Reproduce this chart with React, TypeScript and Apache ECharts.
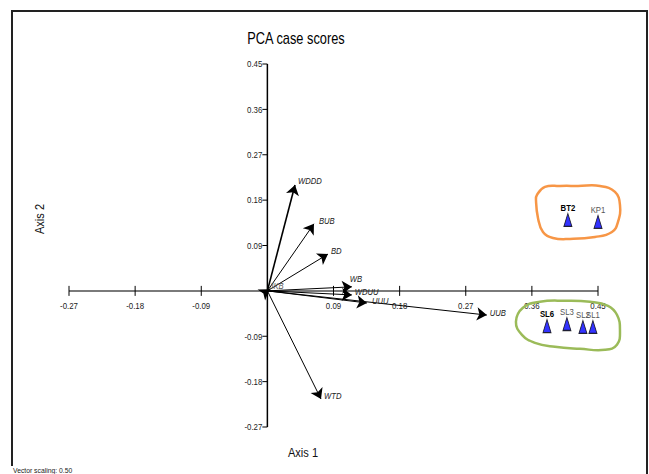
import React, { useEffect, useRef } from "react";
import * as echarts from "echarts";

const FONT = "'Liberation Sans', Arial, sans-serif";

// Axis settings
const axisMin = -0.27;
const axisMax = 0.45;
const tickValues = [-0.27, -0.18, -0.09, 0.09, 0.18, 0.27, 0.36, 0.45];
const tickLabels = ["-0.27", "-0.18", "-0.09", "0.09", "0.18", "0.27", "0.36", "0.45"];

// Environmental vectors (biplot arrows)
const vectorNames = ["WDDD", "BUB", "BD", "WB", "WDUU", "UUU", "UUB", "WTD", "JKB"];
const vectorX = [0.0376, 0.0634, 0.0825, 0.115, 0.115, 0.1355, 0.2987, 0.073, 0.003];
const vectorY = [0.21, 0.133, 0.073, 0.008, -0.008, -0.024, -0.048, -0.2145, 0.003];

// Case scores
const caseNames = ["BT2", "KP1", "SL6", "SL3", "SL2", "SL1"];
const caseX = [0.409, 0.45, 0.3806, 0.4077, 0.4295, 0.4431];
const caseY = [0.1407, 0.137, -0.0697, -0.0657, -0.0716, -0.0716];
const caseBold = ["BT2", "SL6"];

// Hand-drawn group outlines (data coordinates)
const orangeLoopX = [0.3669, 0.3778, 0.3983, 0.4228, 0.4527, 0.4731, 0.4799, 0.4772, 0.469, 0.4459, 0.4119, 0.3887, 0.3751, 0.3683, 0.3656];
const orangeLoopY = [0.1903, 0.2062, 0.2081, 0.2081, 0.2081, 0.1962, 0.1704, 0.1367, 0.1169, 0.1069, 0.103, 0.105, 0.1169, 0.1446, 0.1803];
const greenLoopX = [0.3478, 0.371, 0.405, 0.4391, 0.4636, 0.4758, 0.4799, 0.4758, 0.4595, 0.4254, 0.3914, 0.3642, 0.3465, 0.3383];
const greenLoopY = [-0.0335, -0.0216, -0.0196, -0.0216, -0.0296, -0.0474, -0.0772, -0.1069, -0.1169, -0.1149, -0.1109, -0.103, -0.0871, -0.0613];

// label placement (style only, pixel offsets from the arrow tip)
const vectorLabelOffset: Record<string, [number, number]> = {
  WDDD: [3, -4],
  BUB: [5, -2],
  BD: [3, -3],
  WB: [-2, -7],
  WDUU: [3, -3],
  UUU: [5, -2],
  UUB: [3, -2],
  WTD: [3, -3],
  JKB: [0, -3],
};

export default function App() {
  const ref = useRef<HTMLDivElement>(null);
  useEffect(() => {
    if (!ref.current) return;
    const chart = echarts.init(ref.current, undefined, { renderer: "svg" });

    const hiddenAxis = {
      type: "value",
      min: axisMin,
      max: axisMax,
      show: false,
      splitLine: { show: false },
    };

    const loopSeries = (xs: number[], ys: number[], color: string) => ({
      type: "custom",
      coordinateSystem: "cartesian2d",
      clip: false,
      silent: true,
      z: 2,
      data: [[xs[0], ys[0]]],
      renderItem: (_p: any, api: any) => {
        const pts = xs.map((x, i) => api.coord([x, ys[i]]));
        return {
          type: "polygon",
          shape: { points: pts, smooth: 0.45 },
          style: { fill: "none", stroke: color, lineWidth: 2.5 },
        };
      },
    });

    chart.setOption({
      animation: false,
      backgroundColor: "#fff",
      grid: { left: 69, right: 51, top: 64, bottom: 47, containLabel: false },
      xAxis: hiddenAxis,
      yAxis: hiddenAxis,
      graphic: [
        {
          type: "polyline",
          shape: { points: [[12, 466], [12, 11], [647, 11], [647, 474]] },
          style: { stroke: "#222", lineWidth: 2, fill: "none" },
          silent: true,
        },
        {
          type: "text",
          x: 296,
          y: 38,
          scaleX: 0.8,
          style: { text: "PCA case scores", fontFamily: FONT, fontSize: 16, fill: "#000", align: "center", verticalAlign: "middle" },
        },
        {
          type: "text",
          x: 303,
          y: 453,
          scaleX: 0.85,
          style: { text: "Axis 1", fontFamily: FONT, fontSize: 13, fill: "#111", align: "center", verticalAlign: "middle" },
        },
        {
          type: "text",
          x: 40,
          y: 219,
          rotation: Math.PI / 2,
          scaleX: 0.85,
          style: { text: "Axis 2", fontFamily: FONT, fontSize: 13, fill: "#111", align: "center", verticalAlign: "middle" },
        },
        {
          type: "text",
          x: 13,
          y: 466,
          scaleX: 0.85,
          style: { text: "Vector scaling: 0.50", fontFamily: FONT, fontSize: 8, fill: "#222", align: "left", verticalAlign: "top" },
        },
      ],
      series: [
        // axes drawn through the cartesian coordinate system
        {
          type: "custom",
          coordinateSystem: "cartesian2d",
          clip: false,
          silent: true,
          z: 1,
          data: [[0, 0]],
          renderItem: (_p: any, api: any) => {
            const children: any[] = [];
            const xa = api.coord([axisMin, 0]);
            const xb = api.coord([axisMax, 0]);
            const ya = api.coord([0, axisMin]);
            const yb = api.coord([0, axisMax]);
            children.push({
              type: "line",
              shape: { x1: xa[0], y1: xa[1], x2: xb[0], y2: xb[1] },
              style: { stroke: "#7a7a7a", lineWidth: 2 },
            });
            children.push({
              type: "line",
              shape: { x1: ya[0], y1: ya[1], x2: yb[0], y2: yb[1] },
              style: { stroke: "#000", lineWidth: 1.5 },
            });
            tickValues.forEach((v, i) => {
              const p = api.coord([v, 0]);
              children.push({
                type: "line",
                shape: { x1: p[0], y1: p[1] - 5, x2: p[0], y2: p[1] + 5 },
                style: { stroke: "#000", lineWidth: 1 },
              });
              children.push({
                type: "text",
                x: p[0],
                y: p[1] + 10,
                scaleX: 0.83,
                style: { text: tickLabels[i], fontFamily: FONT, fontSize: 9.5, fill: "#222", align: "center", verticalAlign: "top" },
              });
              const q = api.coord([0, v]);
              children.push({
                type: "line",
                shape: { x1: q[0] - 5, y1: q[1], x2: q[0], y2: q[1] },
                style: { stroke: "#000", lineWidth: 1 },
              });
              children.push({
                type: "text",
                x: q[0] - 5,
                y: q[1],
                scaleX: 0.83,
                style: { text: tickLabels[i], fontFamily: FONT, fontSize: 9.5, fill: "#222", align: "right", verticalAlign: "middle" },
              });
            });
            return { type: "group", children };
          },
        },
        loopSeries(orangeLoopX, orangeLoopY, "#f79646"),
        loopSeries(greenLoopX, greenLoopY, "#9bbb59"),
        {
          type: "lines",
          coordinateSystem: "cartesian2d",
          symbol: ["none", "arrow"],
          symbolSize: 10,
          lineStyle: { color: "#000", width: 1, opacity: 1 },
          data: vectorNames.map((n, i) => ({
            name: n,
            coords: [[0, 0], [vectorX[i], vectorY[i]]],
            lineStyle: n === "WDDD" ? { width: 1.6 } : undefined,
          })),
          silent: true,
          z: 3,
        },
        {
          type: "custom",
          coordinateSystem: "cartesian2d",
          clip: false,
          silent: true,
          z: 4,
          data: vectorNames.map((n, i) => [vectorX[i], vectorY[i]]),
          renderItem: (params: any, api: any) => {
            const n = vectorNames[params.dataIndex];
            const p = api.coord([api.value(0), api.value(1)]);
            const off = vectorLabelOffset[n] || [3, -2];
            return {
              type: "text",
              x: p[0] + off[0],
              y: p[1] + off[1],
              scaleX: 0.9,
              style: {
                text: n,
                fontFamily: FONT,
                fontSize: 8.5,
                fontStyle: "italic",
                fill: n === "JKB" ? "#555" : "#222",
                align: "left",
                verticalAlign: "middle",
              },
            };
          },
        },
        {
          type: "scatter",
          symbol: "triangle",
          symbolSize: [8, 13],
          itemStyle: { color: "#0000ff", borderColor: "#000", borderWidth: 1 },
          data: caseNames.map((n, i) => ({ name: n, value: [caseX[i], caseY[i]] })),
          label: { show: false },
          silent: true,
          z: 5,
        },
        {
          type: "custom",
          coordinateSystem: "cartesian2d",
          clip: false,
          silent: true,
          z: 6,
          data: caseNames.map((n, i) => [caseX[i], caseY[i]]),
          renderItem: (params: any, api: any) => {
            const n = caseNames[params.dataIndex];
            const p = api.coord([api.value(0), api.value(1)]);
            const bold = caseBold.includes(n);
            return {
              type: "text",
              x: p[0],
              y: p[1] - 12,
              scaleX: 0.82,
              style: {
                text: n,
                fontFamily: FONT,
                fontSize: 9.5,
                fontWeight: bold ? "bold" : "normal",
                fill: bold ? "#000" : "#555",
                align: "center",
                verticalAlign: "middle",
              },
            };
          },
        },
      ],
    });
    return () => chart.dispose();
  }, []);
  return (
    <div
      ref={ref}
      style={{ position: "fixed", left: 0, top: 0, width: 649, height: 474, background: "#fff" }}
    />
  );
}
